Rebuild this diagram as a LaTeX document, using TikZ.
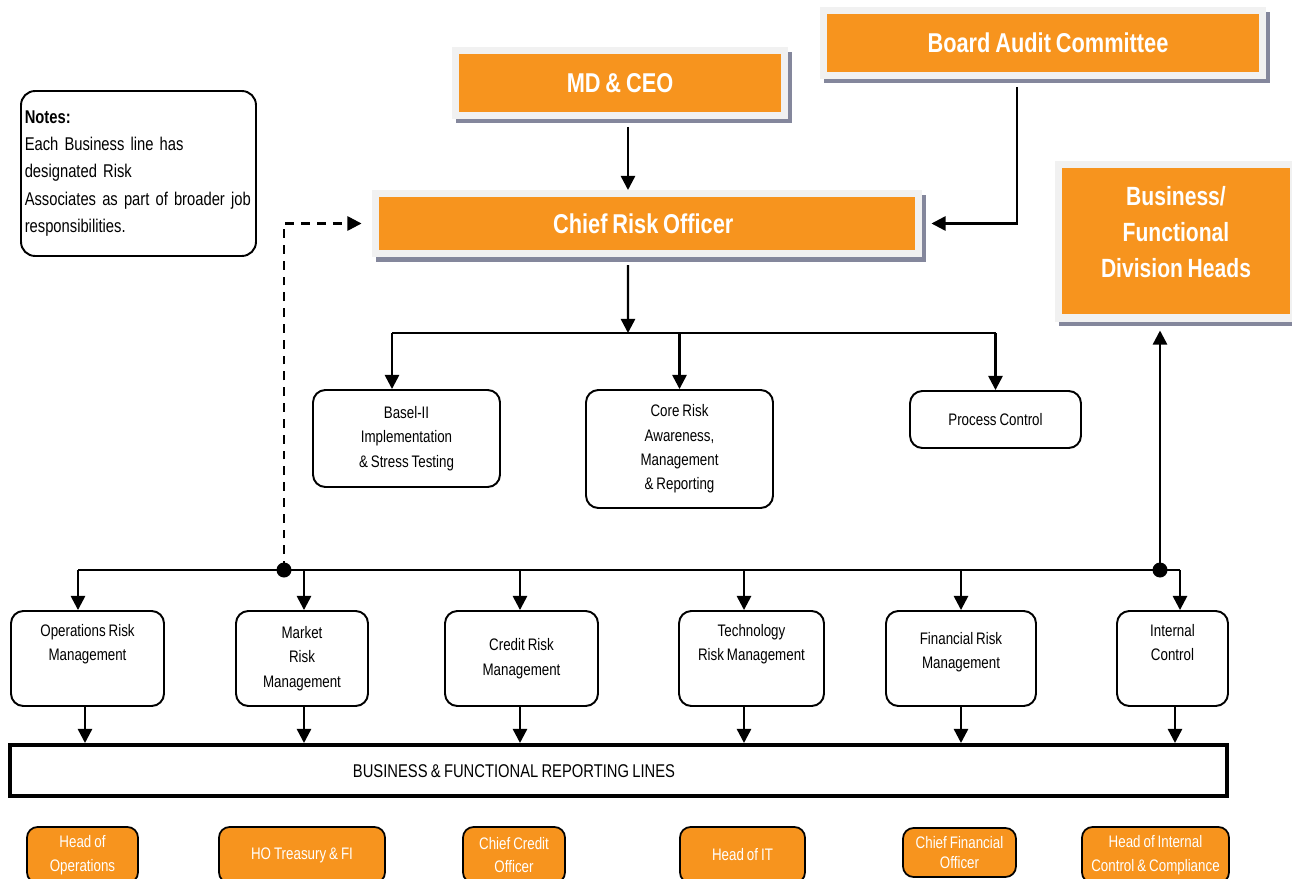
\documentclass[tikz,border=0pt]{standalone}
\usepackage{fontspec}
\setmainfont[FakeStretch=0.8, WordSpace=0.8]{Liberation Sans}
\usepackage{tikz}
\usetikzlibrary{
  	arrows.meta,
  	shadows,
  	calc
  }
\definecolor{riskorange}{HTML}{F7941E}
\definecolor{framegray}{HTML}{F1F1F1}
\definecolor{shadegray}{HTML}{84879C}
\tikzstyle{headbox}=[rectangle, fill=riskorange, draw=framegray, line width=4pt, text=white, align=center, font=\bfseries\fontsize{15.5}{18}\selectfont, drop shadow={shadow xshift=2.4pt, shadow yshift=-2.6pt, fill=shadegray, draw=shadegray, line width=4pt, opacity=1}]
\tikzstyle{unitbox}=[rectangle, rounded corners=7pt, draw, line width=1.1pt, align=center, font=\fontsize{9.5}{13.9}\selectfont]
\tikzstyle{headsbox}=[rectangle, rounded corners=6pt, draw, line width=1pt, fill=riskorange, text=white, align=center, font=\fontsize{9.5}{13.6}\selectfont]
\tikzstyle{arr}=[line width=1.4pt, -{Triangle[width=8pt,length=8pt]}]
\tikzstyle{dasharr}=[line width=1.4pt, dash pattern=on 5pt off 4pt, -{Triangle[width=8pt,length=8pt]}]
\tikzstyle{bus}=[line width=0.9pt]
\tikzstyle{circ}=[circle,fill=black,inner sep=0pt,minimum size=0.3cm]

\begin{document}
\begin{tikzpicture}[x=0.02cm, y=-0.02cm]
  	\useasboundingbox (0,0) rectangle (1292,879);

  	\node[headbox, minimum width=6.58cm, minimum height=1.29cm] (md) at (620,83) {MD \& CEO};
  	\node[headbox, minimum width=8.78cm, minimum height=1.29cm] (board) at (1043,43) {\hspace*{0.2cm}Board Audit Committee};
  	\node[headbox, minimum width=10.86cm, minimum height=1.2cm] (cro) at (647,223.5) {Chief Risk Officer\hspace*{0.15cm}};
  	\node[headbox, minimum width=4.7cm, minimum height=3.08cm, font=\bfseries\fontsize{15}{20.7}\selectfont] (biz) at (1176,241) {Business/\\Functional\\Division Heads\\[-10.5pt]};

  	\node[rectangle, rounded corners=8pt, draw, line width=1.1pt, minimum width=4.7cm, minimum height=3.3cm, inner xsep=2pt, text width=4.55cm, align=left, font=\fontsize{10.5}{15.6}\selectfont] (notes) at (138.5,173.5)
  	  	{\textbf{Notes:}\\Each Business line has\\designated Risk\\Associates as part of broader job\\responsibilities.\\[0.2cm]};

  	\node[unitbox, minimum width=3.74cm, minimum height=1.94cm] (basel) at (406.5,438.5) {Basel-II\\Implementation\\\& Stress Testing};
  	\node[unitbox, minimum width=3.74cm, minimum height=2.36cm] (core) at (679.5,449) {Core Risk\\Awareness,\\Management\\\& Reporting};
  	\node[unitbox, minimum width=3.42cm, minimum height=1.14cm] (process) at (995.5,419.5) {Process Control};

  	\node[unitbox, minimum width=3.06cm, minimum height=1.9cm] (ops) at (87.5,658.5) {Operations Risk\\Management\\\strut};
  	\node[unitbox, minimum width=2.64cm, minimum height=1.9cm] (market) at (302,658.5) {Market\\Risk\\Management};
  	\node[unitbox, minimum width=3.06cm, minimum height=1.9cm] (credit) at (521.5,658.5) {Credit Risk\\Management};
  	\node[unitbox, minimum width=2.9cm, minimum height=1.9cm] (tech) at (751.5,658.5) {Technology\\Risk Management\\\strut};
  	\node[unitbox, minimum width=3.0cm, minimum height=1.9cm] (fin) at (961,658.5) {Financial Risk\\Management\\[-4.8pt]};
  	\node[unitbox, minimum width=2.22cm, minimum height=1.9cm] (intc) at (1172.5,658.5) {Internal\\Control\\\strut};

  	\node[rectangle, draw, line width=2.3pt, minimum width=24.34cm, minimum height=1.02cm] (replines) at (618.5,770.5) {};
  	\node[font=\fontsize{10.5}{12}\selectfont] (repltext) at (514,771) {BUSINESS \& FUNCTIONAL REPORTING LINES};

  	\node[headsbox, minimum width=2.22cm, minimum height=1.12cm] (hops) at (82.5,855) {Head of\\Operations};
  	\node[headsbox, minimum width=3.32cm, minimum height=1.12cm] (htreas) at (302,855) {HO Treasury \& FI};
  	\node[headsbox, minimum width=2.04cm, minimum height=1.12cm] (hcredit) at (514,855) {Chief Credit\\Officer};
  	\node[headsbox, minimum width=2.5cm, minimum height=1.12cm] (hit) at (742.5,855) {Head of IT};
  	\node[headsbox, minimum width=2.26cm, minimum height=0.98cm, font=\fontsize{9.5}{11.3}\selectfont] (hcfo) at (959.5,852.5) {Chief Financial\\Officer};
  	\node[headsbox, minimum width=2.94cm, minimum height=1.12cm] (hicc) at (1155.5,855) {Head of Internal\\Control \& Compliance};

  	\coordinate (crobus) at (628,333);
  	\coordinate (jl) at (284,570);
  	\coordinate (jr) at (1160,570);

  	\draw[arr, shorten <=0.16cm] ([xshift=0.16cm]md.south) -- ([xshift=0.16cm]md.south |- cro.north);
  	\draw[arr, shorten <=0.16cm, shorten >=0.19cm] ([xshift=-0.52cm]board.south) |- (cro.east);
  	\draw[arr, shorten <=0.16cm] ([xshift=-0.38cm]cro.south) -- (crobus);

  	\draw[bus] ([xshift=-0.29cm]basel.north |- crobus) -- (process.north |- crobus);
  	\foreach \b/\dx in {basel/-0.29, core/0, process/0}
  	  	\draw[arr] ([xshift=\dx cm]\b.north |- crobus) -- ([xshift=\dx cm]\b.north);

  	\draw[bus] ([xshift=-0.19cm]ops.north |- jl) -- ([xshift=0.15cm]intc.north |- jl);
  	\foreach \b/\dx in {ops/-0.19, market/0.04, credit/-0.03, tech/-0.15, fin/0, intc/0.15}
  	  	\draw[arr] ([xshift=\dx cm]\b.north |- jl) -- ([xshift=\dx cm]\b.north);
  	\foreach \b/\dx in {ops/-0.05, market/0.04, credit/-0.03, tech/-0.15, fin/0, intc/0.05}
  	  	\draw[arr] ([xshift=\dx cm]\b.south) -- ([xshift=\dx cm]\b.south |- replines.north);

  	\draw[dasharr] (jl) |- ([xshift=-0.21cm]cro.west);
  	\draw[arr, shorten >=0.18cm] (jr) -- (jr |- biz.south);

  	\node[circ] (dotl) at (jl) {};
  	\node[circ] (dotr) at (jr) {};
  \end{tikzpicture}
\end{document}
